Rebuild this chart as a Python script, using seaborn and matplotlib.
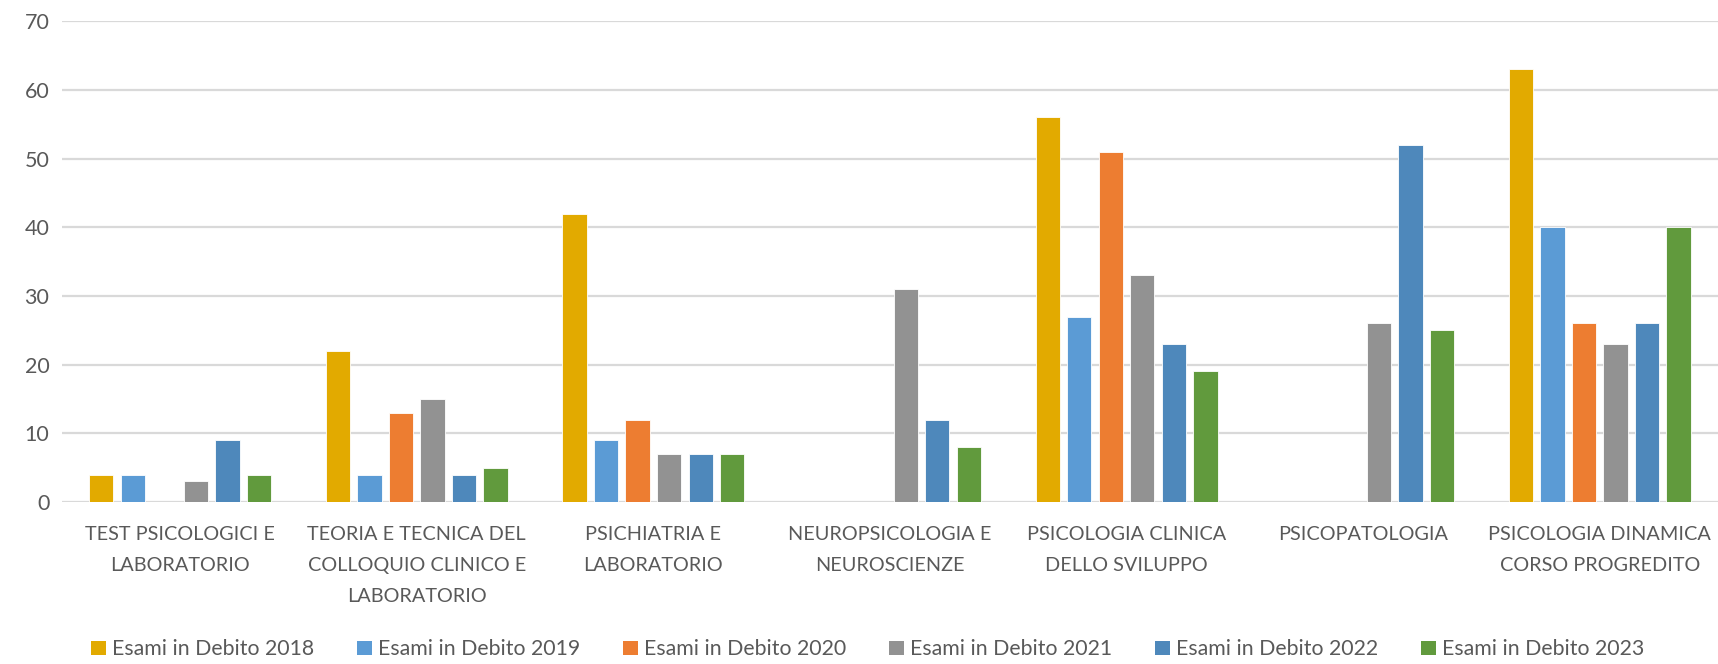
import numpy as np
import pandas as pd
import matplotlib
matplotlib.use("Agg")
import matplotlib.pyplot as plt
import seaborn as sns
from matplotlib.patches import Patch

categories = [
    "TEST PSICOLOGICI E\nLABORATORIO",
    "TEORIA E TECNICA DEL\nCOLLOQUIO CLINICO E\nLABORATORIO",
    "PSICHIATRIA E\nLABORATORIO",
    "NEUROPSICOLOGIA E\nNEUROSCIENZE",
    "PSICOLOGIA CLINICA\nDELLO SVILUPPO",
    "PSICOPATOLOGIA",
    "PSICOLOGIA DINAMICA\nCORSO PROGREDITO",
]
series_names = [
    "Esami in Debito 2018",
    "Esami in Debito 2019",
    "Esami in Debito 2020",
    "Esami in Debito 2021",
    "Esami in Debito 2022",
    "Esami in Debito 2023",
]
nan = np.nan
v2018 = [4, 22, 42, nan, 56, nan, 63]
v2019 = [4, 4, 9, nan, 27, nan, 40]
v2020 = [nan, 13, 12, nan, 51, nan, 26]
v2021 = [3, 15, 7, 31, 33, 26, 23]
v2022 = [9, 4, 7, 12, 23, 52, 26]
v2023 = [4, 5, 7, 8, 19, 25, 40]
colors = ["#E2AA00", "#5B9BD5", "#ED7D31", "#929292", "#4E88BB", "#619A3D"]

series_values = [v2018, v2019, v2020, v2021, v2022, v2023]
rows = []
for name, vals in zip(series_names, series_values):
    for c, v in zip(categories, vals):
        rows.append({"cat": c, "serie": name, "val": v})
df = pd.DataFrame(rows)

sns.set_theme(style="white")
plt.rcParams["font.family"] = ["Lato", "DejaVu Sans"]

fig = plt.figure(figsize=(17.18, 6.64), dpi=100)
ax = fig.add_axes([0.036, 0.244, 0.964, 0.724])

sns.barplot(data=df, x="cat", y="val", hue="serie", order=categories,
            hue_order=series_names, palette=colors, width=0.8, gap=0.23,
            saturation=1, edgecolor="white", linewidth=0.6, ax=ax,
            legend=False)

ax.set_ylim(0, 70)
ax.set_yticks(range(0, 71, 10))
ax.set_xlim(-0.5, len(categories) - 0.5)
ax.yaxis.grid(True, color="#D9D9D9", linewidth=1.6)
ax.set_axisbelow(True)
for s in ax.spines.values():
    s.set_visible(False)
ax.set_xlabel("")
ax.set_ylabel("")
ax.tick_params(axis="y", labelsize=15.5, labelcolor="#595959", length=0, pad=9)
ax.tick_params(axis="x", labelsize=14.3, labelcolor="#595959", length=0, pad=17)
for lab in ax.get_xticklabels():
    lab.set_linespacing(2.0)
    lab.set_verticalalignment("top")

handles = [Patch(facecolor=c, edgecolor="none") for c in colors]
fig.legend(handles, series_names, loc="lower center", ncol=6,
           bbox_to_anchor=(0.505, -0.022), frameon=False, fontsize=15.3,
           handlelength=0.7, handleheight=0.7, handletextpad=0.3,
           columnspacing=2.0, labelcolor="#595959")

fig.savefig("out.png", dpi=100)
